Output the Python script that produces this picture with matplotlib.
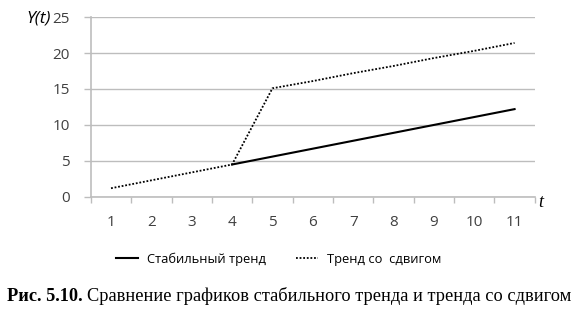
import matplotlib
matplotlib.use('Agg')
import matplotlib.pyplot as plt
import numpy as np

t = [1, 2, 3, 4, 5, 6, 7, 8, 9, 10, 11]
stable = [np.nan, np.nan, np.nan, 4.5, 5.6, 6.7, 7.8, 8.9, 10.0, 11.1, 12.2]
shifted = [1.2, 2.3, 3.4, 4.5, 15.1, 16.1, 17.2, 18.2, 19.3, 20.3, 21.4]
y_ticks = [0, 5, 10, 15, 20, 25]

grid_c = '#bdbdbd'
text_c = '#404040'

fig = plt.figure(figsize=(5.75, 3.16), dpi=100)
ax = fig.add_axes([0.158, 0.377, 0.772, 0.569])

ax.plot(t, shifted, c='black', lw=1.3, ls=(0, (1, 1)), label='Тренд со  сдвигом')
ax.plot(t, stable, c='black', lw=1.5, label='Стабильный тренд')

ax.set_xlim(0.5, 11.5)
ax.set_ylim(0, 25)
ax.set_yticks(y_ticks)
ax.set_xticks(t)
ax.set_xticks(np.arange(0.5, 12, 1), minor=True)
ax.yaxis.grid(True, color=grid_c, lw=1)
ax.set_axisbelow(True)
for s in ['top', 'right']:
    ax.spines[s].set_visible(False)
ax.spines['left'].set_color(grid_c)
ax.spines['bottom'].set_color(grid_c)
ax.spines['left'].set_linewidth(1.2)
ax.spines['bottom'].set_linewidth(1.2)
ax.tick_params(axis='x', which='major', length=0, pad=13, labelsize=11, labelcolor=text_c)
ax.tick_params(axis='x', which='minor', length=4, color=grid_c, width=1)
ax.tick_params(axis='y', length=5, color=grid_c, width=1, pad=10, labelsize=11, labelcolor=text_c)
for lab in ax.get_xticklabels() + ax.get_yticklabels():
    lab.set_family('Open Sans')

fig.text(0.068, 0.94, 'Y(t)', fontsize=12.5, ha='center', va='center',
         family='Open Sans', style='italic', color='black')
fig.text(0.94, 0.36, 't', fontsize=13, ha='center', va='center',
         family='Liberation Serif', style='italic')

h, l = ax.get_legend_handles_labels()
fig.legend([h[1], h[0]], [l[1], l[0]], loc='center', bbox_to_anchor=(0.485, 0.18),
           ncol=2, frameon=False, prop={'family': 'Open Sans', 'size': 9.3},
           handlelength=1.7, handletextpad=0.7, columnspacing=2.3)

cap1 = fig.text(0.012, 0.063, 'Рис. 5.10.', fontsize=13.2, family='Liberation Serif',
                weight='bold', va='center')
fig.canvas.draw()
bb = cap1.get_window_extent()
x2 = (bb.x1 + 4) / fig.bbox.width
fig.text(x2, 0.063, 'Сравнение графиков стабильного тренда и тренда со сдвигом',
         fontsize=13.2, family='Liberation Serif', va='center')

fig.savefig('out.png', dpi=100)
